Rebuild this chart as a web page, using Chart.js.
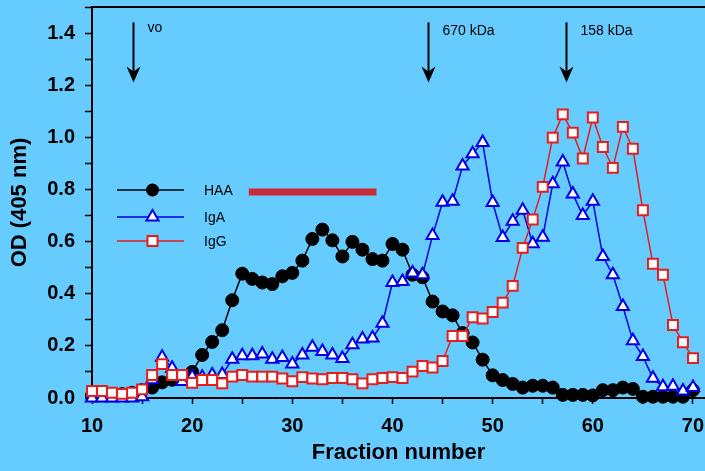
<!DOCTYPE html>
<html>
<head>
<meta charset="utf-8">
<script src="https://cdn.jsdelivr.net/npm/chart.js@4.4.1/dist/chart.umd.min.js"></script>
<style>
  html, body { margin: 0; padding: 0; background: #66ccff; }
  #wrap { width: 705px; height: 471px; }
</style>
</head>
<body>
<div id="wrap"><canvas id="chart" width="705" height="471"></canvas></div>
<script>
// fraction numbers and OD readings
const fractions = [10, 11, 12, 13, 14, 15, 16, 17, 18, 19,
  20, 21, 22, 23, 24, 25, 26, 27, 28, 29,
  30, 31, 32, 33, 34, 35, 36, 37, 38, 39,
  40, 41, 42, 43, 44, 45, 46, 47, 48, 49,
  50, 51, 52, 53, 54, 55, 56, 57, 58, 59,
  60, 61, 62, 63, 64, 65, 66, 67, 68, 69, 70];

const haa = [0.01, 0.01, 0.01, 0.015, 0.02, 0.03, 0.04, 0.06, 0.07, 0.08,
  0.10, 0.165, 0.215, 0.26, 0.375, 0.477, 0.457, 0.443, 0.437, 0.467,
  0.48, 0.527, 0.61, 0.646, 0.605, 0.543, 0.599, 0.569, 0.533, 0.527,
  0.591, 0.569, 0.473, 0.463, 0.37, 0.332, 0.317, 0.249, 0.213, 0.147,
  0.087, 0.069, 0.054, 0.04, 0.047, 0.047, 0.04, 0.012, 0.012, 0.012,
  0.01, 0.03, 0.03, 0.04, 0.035, 0.005, 0.005, 0.005, 0.005, 0.005, 0.03];

const iga = [0.0, 0.0, 0.0, 0.0, 0.0, 0.005, 0.07, 0.156, 0.114, 0.063,
  0.082, 0.08, 0.088, 0.09, 0.149, 0.162, 0.162, 0.169, 0.149, 0.155,
  0.13, 0.165, 0.195, 0.178, 0.165, 0.152, 0.204, 0.226, 0.23, 0.287,
  0.443, 0.447, 0.48, 0.473, 0.623, 0.751, 0.755, 0.89, 0.937, 0.98,
  0.75, 0.616, 0.678, 0.72, 0.592, 0.617, 0.822, 0.905, 0.783, 0.70,
  0.755, 0.543, 0.473, 0.351, 0.22, 0.159, 0.076, 0.043, 0.045, 0.027, 0.04];

const igg = [0.027, 0.027, 0.02, 0.016, 0.02, 0.033, 0.088, 0.13, 0.088, 0.088,
  0.058, 0.069, 0.069, 0.056, 0.082, 0.088, 0.082, 0.082, 0.082, 0.075,
  0.064, 0.08, 0.075, 0.072, 0.077, 0.077, 0.072, 0.056, 0.072, 0.077,
  0.08, 0.077, 0.101, 0.123, 0.117, 0.142, 0.238, 0.238, 0.31, 0.305,
  0.33, 0.366, 0.43, 0.576, 0.685, 0.81, 0.999, 1.088, 1.018, 0.919,
  1.076, 0.963, 0.883, 1.04, 0.956, 0.72, 0.515, 0.473, 0.28, 0.214, 0.153];

// size markers (arrows) and the red bar
const markerFractions = [14.05, 43.55, 57.3];
const markerLabels = ['vo', '670 kDa', '158 kDa'];
const barFractions = [25.65, 38.4];
const barLevel = [0.79, 0.79];

const xTickValues = [10, 15, 20, 25, 30, 35, 40, 45, 50, 55, 60, 65, 70];

const pts = arr => fractions.map((f, i) => ({ x: f, y: arr[i] }));

const BLUE = '#0000e6';
const RED = '#e41e1e';

const extras = {
  id: 'extras',
  afterDraw(chart) {
    const { ctx, chartArea: a, scales: { x, y } } = chart;
    ctx.save();
    ctx.strokeStyle = '#000';
    ctx.fillStyle = '#000';
    ctx.lineWidth = 2;
    ctx.beginPath();
    ctx.moveTo(a.left, a.top);
    ctx.lineTo(a.right, a.top);
    ctx.stroke();

    // arrows
    ctx.font = '14px Arial';
    ctx.textBaseline = 'alphabetic';
    markerFractions.forEach((f, i) => {
      const px = Math.round(x.getPixelForValue(f)) + 0.5;
      const y0 = y.getPixelForValue(1.441);
      const y1 = y.getPixelForValue(1.21);
      ctx.beginPath();
      ctx.moveTo(px, y0);
      ctx.lineTo(px, y1 - 8);
      ctx.stroke();
      ctx.beginPath();
      ctx.moveTo(px, y1);
      ctx.lineTo(px - 7, y1 - 16);
      ctx.lineTo(px, y1 - 11);
      ctx.lineTo(px + 7, y1 - 16);
      ctx.closePath();
      ctx.fill();
      ctx.fillText(markerLabels[i], px + 14, i === 0 ? 32 : 35);
    });

    // legend
    const items = [
      { label: 'HAA', color: '#000', y: 190, mark: 'circle' },
      { label: 'IgA', color: BLUE, y: 217, mark: 'triangle' },
      { label: 'IgG', color: RED, y: 241, mark: 'rect' }
    ];
    items.forEach(it => {
      ctx.strokeStyle = it.color;
      ctx.lineWidth = 1.5;
      ctx.beginPath();
      ctx.moveTo(117, it.y);
      ctx.lineTo(184, it.y);
      ctx.stroke();
      const cx = 152.5;
      ctx.lineWidth = 2;
      if (it.mark === 'circle') {
        ctx.fillStyle = '#000';
        ctx.beginPath();
        ctx.arc(cx, it.y, 6.5, 0, Math.PI * 2);
        ctx.fill();
      } else if (it.mark === 'triangle') {
        ctx.fillStyle = '#fff';
        ctx.beginPath();
        ctx.moveTo(cx, it.y - 7);
        ctx.lineTo(cx + 6.1, it.y + 3.5);
        ctx.lineTo(cx - 6.1, it.y + 3.5);
        ctx.closePath();
        ctx.fill();
        ctx.stroke();
      } else {
        ctx.fillStyle = '#fff';
        ctx.fillRect(cx - 5, it.y - 5, 10, 10);
        ctx.strokeRect(cx - 5, it.y - 5, 10, 10);
      }
      ctx.fillStyle = '#000';
      ctx.font = '14px Arial';
      ctx.fillText(it.label, 204, it.y + 5);
    });
    ctx.restore();
  }
};

new Chart(document.getElementById('chart'), {
  type: 'line',
  data: {
    datasets: [
      {
        label: 'bar',
        data: barFractions.map((f, i) => ({ x: f, y: barLevel[i] })),
        borderColor: '#cc2a36',
        borderWidth: 7,
        borderCapStyle: 'butt',
        pointRadius: 0,
        order: 0
      },
      {
        label: 'IgG',
        data: pts(igg),
        borderColor: RED,
        borderWidth: 1.5,
        pointStyle: 'rect',
        pointRadius: 7,
        pointBackgroundColor: '#fff',
        pointBorderColor: RED,
        pointBorderWidth: 2,
        order: 1
      },
      {
        label: 'IgA',
        data: pts(iga),
        borderColor: BLUE,
        borderWidth: 1.5,
        pointStyle: 'triangle',
        pointRadius: 7,
        pointBackgroundColor: '#fff',
        pointBorderColor: BLUE,
        pointBorderWidth: 2,
        order: 2
      },
      {
        label: 'HAA',
        data: pts(haa),
        borderColor: '#000',
        borderWidth: 1.5,
        pointStyle: 'circle',
        pointRadius: 6.5,
        pointBackgroundColor: '#000',
        pointBorderColor: '#000',
        pointBorderWidth: 1,
        order: 3
      }
    ]
  },
  options: {
    responsive: false,
    animation: false,
    clip: false,
    layout: { autoPadding: false, padding: { top: 7, right: 0, left: 0, bottom: 0 } },
    plugins: { legend: { display: false }, tooltip: { enabled: false } },
    scales: {
      x: {
        type: 'linear',
        min: 10,
        max: 71.2,
        afterBuildTicks: s => { s.ticks = xTickValues.map(v => ({ value: v })); },
        afterFit: s => { s.height = 73; s.paddingLeft = 0; s.paddingRight = 0; },
        ticks: {
          autoSkip: false,
          maxRotation: 0,
          padding: 10,
          color: '#000',
          font: { family: 'Arial', size: 20, weight: 'bold' },
          callback: v => (v % 10 === 0 ? String(v) : '')
        },
        grid: { drawOnChartArea: false, drawTicks: true, tickLength: 6, tickColor: '#000', tickWidth: 1.5 },
        border: { color: '#000', width: 2 },
        title: {
          display: true,
          text: 'Fraction number',
          color: '#000',
          font: { family: 'Arial', size: 22, weight: 'bold' },
          padding: { top: 0, bottom: 5 }
        }
      },
      y: {
        min: 0,
        max: 1.5,
        afterFit: s => { s.width = 92; s.paddingTop = 0; s.paddingBottom = 0; },
        ticks: {
          stepSize: 0.1,
          autoSkip: false,
          padding: 10,
          color: '#000',
          font: { family: 'Arial', size: 20, weight: 'bold' },
          callback: v => (Math.round(v * 10) % 2 === 0 ? v.toFixed(1) : '')
        },
        grid: { drawOnChartArea: false, drawTicks: true, tickLength: 7, tickColor: '#000', tickWidth: 1.5 },
        border: { color: '#000', width: 2 },
        title: {
          display: true,
          text: 'OD (405 nm)',
          color: '#000',
          font: { family: 'Arial', size: 22, weight: 'bold' },
          padding: { top: 7, bottom: 0 }
        }
      }
    }
  },
  plugins: [extras]
});
</script>
</body>
</html>
